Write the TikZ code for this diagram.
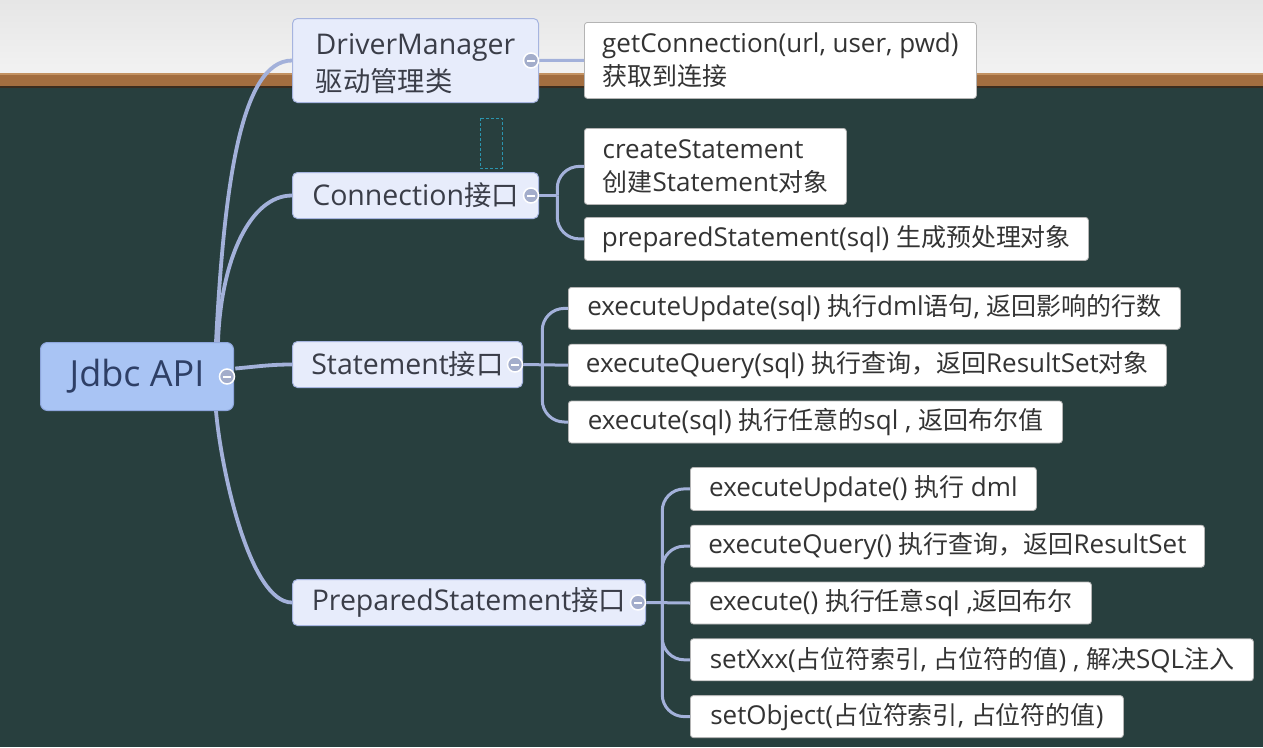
\documentclass[tikz,border=0pt]{standalone}
\usepackage{fontspec}
\usepackage{xcolor}
\usepackage{tikz}
\usetikzlibrary{shapes,arrows,positioning}
\setmainfont{Open Sans}
\newfontfamily\cjk[Scale=0.96]{Noto Sans CJK SC}
\newcommand{\zh}[1]{{\cjk #1}}
\newcommand{\leaffont}{\fontsize{26}{33}\selectfont}
\newcommand{\topicfont}{\fontsize{28.5}{37}\selectfont}
\newcommand{\rootfont}{\fontsize{36}{40}\selectfont}
\definecolor{boardcol}{HTML}{283F3E}
\definecolor{wallhi}{HTML}{E6E6E6}
\definecolor{walllo}{HTML}{F2F2F2}
\definecolor{woodcol}{HTML}{A36E40}
\definecolor{woodhi}{HTML}{C39262}
\definecolor{wooddark}{HTML}{3A2C1E}
\definecolor{rootfill}{HTML}{A9C4F4}
\definecolor{rootline}{HTML}{8EA6DC}
\definecolor{roottext}{HTML}{2E3F66}
\definecolor{topicfill}{HTML}{E7ECFB}
\definecolor{topicline}{HTML}{A6B4DF}
\definecolor{topictext}{HTML}{3A3D48}
\definecolor{leafline}{HTML}{B4B4B4}
\definecolor{leaftext}{HTML}{333333}
\definecolor{branchcol}{HTML}{A3B1DA}
\definecolor{knobcol}{HTML}{A3ADCB}
\definecolor{selcol}{HTML}{2B95AE}
\tikzstyle{root} = [rectangle, draw=rootline, fill=rootfill, line width=1pt,
    rounded corners=7pt, text=roottext, font=\rootfont, anchor=north west,
    minimum width=193pt, minimum height=68pt]
\tikzstyle{topic} = [rectangle, draw=topicline, fill=topicfill, line width=1pt,
    rounded corners=5pt, text=topictext, font=\topicfont, align=left,
    anchor=north west, minimum height=46pt]
\tikzstyle{leaf} = [rectangle, draw=leafline, fill=white, line width=0.8pt,
    rounded corners=3pt, text=leaftext, font=\leaffont, align=left,
    anchor=north west, minimum height=42pt]
\tikzstyle{knob} = [circle, draw=white, fill=knobcol, line width=1.5pt,
    minimum size=15pt, inner sep=0pt,
    path picture={\draw[white, line width=2pt]
      ([xshift=3.5pt]path picture bounding box.west) --
      ([xshift=-3.5pt]path picture bounding box.east);}]
\tikzstyle{branch} = [draw=branchcol, line width=3.8pt]
\tikzstyle{twig} = [draw=branchcol, line width=3pt, rounded corners=22pt]
\tikzstyle{selbox} = [draw=selcol, line width=0.8pt, dash pattern=on 3pt off 2pt]

\begin{document}
\begin{tikzpicture}[x=1pt, y=-1pt, node distance=14pt]
    \useasboundingbox (0,0) rectangle (1263,747);
    % Board
    \fill[top color=wallhi, bottom color=walllo] (0,0) rectangle (1263,73);
    \fill[woodcol] (0,73) rectangle (1263,87);
    \fill[woodhi] (0,73) rectangle (1263,75);
    \fill[wooddark] (0,85.5) rectangle (1263,87.5);
    \fill[boardcol] (0,87.5) rectangle (1263,747);
    \draw[selbox] (480,118) rectangle (502,168);
    % Place nodes
    \node [root, align=center] (jdbc) at (40,342) {Jdbc API};
    \node [topic, minimum width=246pt, minimum height=84pt] (dm) at (292,18)
        {\rule{0pt}{27pt}DriverManager\\\zh{驱动管理类}};
    \node [topic, minimum width=246pt] (conn) at (292,172) {Connection\zh{接口}};
    \node [topic, minimum width=230pt] (stmt) at (292,341) {Statement\zh{接口}};
    \node [topic, minimum width=353pt] (pstmt) at (292,579) {PreparedStatement\zh{接口}};
    \node [leaf, minimum width=392pt, minimum height=76pt] (getconn) at (584,22)
        {getConnection(url, user, pwd)\\\zh{获取到连接}};
    \node [leaf, minimum width=262pt, minimum height=76pt] (create) at (584,128)
        {createStatement\\\zh{创建}Statement\zh{对象}};
    \node [leaf, minimum width=504pt, minimum height=43pt] (prepare) at (584,217)
        {preparedStatement(sql) \zh{生成预处理对象}};
    \node [leaf, minimum width=612pt] (supdate) at (568,287)
        {executeUpdate(sql) \zh{执行}dml\zh{语句}, \zh{返回影响的行数}};
    \node [leaf, below=of supdate.south west, anchor=north west, minimum width=598pt] (squery)
        {executeQuery(sql) \zh{执行查询，返回}ResultSet\zh{对象}};
    \node [leaf, below=of squery.south west, anchor=north west, minimum width=494pt] (sexec)
        {execute(sql) \zh{执行任意的}sql , \zh{返回布尔值}};
    \node [leaf, minimum width=346pt, minimum height=43pt] (pupdate) at (690,467)
        {executeUpdate() \zh{执行} dml};
    \node [leaf, below=of pupdate.south west, anchor=north west, minimum width=514pt] (pquery)
        {executeQuery() \zh{执行查询，返回}ResultSet};
    \node [leaf, below=of pquery.south west, anchor=north west, minimum width=401pt] (pexec)
        {execute() \zh{执行任意}sql ,\zh{返回布尔}};
    \node [leaf, below=of pexec.south west, anchor=north west, minimum width=563pt] (pset)
        {setXxx(\zh{占位符索引}, \zh{占位符的值}) , \zh{解决}SQL\zh{注入}};
    \node [leaf, below=of pset.south west, anchor=north west, minimum width=433pt] (pobj)
        {setObject(\zh{占位符索引}, \zh{占位符的值})};
    % Knobs
    \node [knob] (kjdbc) at ([xshift=-7pt]jdbc.east) {};
    \node [knob] (kdm) at ([xshift=-8pt]dm.east) {};
    \node [knob] (kconn) at ([xshift=-8pt]conn.east) {};
    \node [knob] (kstmt) at ([xshift=-8pt]stmt.east) {};
    \node [knob] (kpstmt) at ([xshift=-8pt]pstmt.east) {};
    \coordinate (fconn) at ([xshift=18pt]kconn.east);
    \coordinate (fstmt) at ([xshift=19pt]kstmt.east);
    \coordinate (fpstmt) at ([xshift=16pt]kpstmt.east);
    % Draw edges
    \path [branch] ([xshift=-18pt]jdbc.north east) to[out=87, in=180, out distance=152pt, in distance=52pt] (dm.west);
    \path [branch] ([xshift=-16pt]jdbc.north east) to[out=88, in=180, out distance=82pt, in distance=42pt] (conn.west);
    \path [branch] ([yshift=8pt]kjdbc.east) to[out=5, in=180] (stmt.west);
    \path [branch] ([xshift=-18pt]jdbc.south east) to[out=-85, in=180, out distance=60pt, in distance=42pt] (pstmt.west);
    \path [twig] (kdm.east) -- (getconn.west);
    \path [twig] (kconn.east) -- (fconn);
    \path [twig] (fconn) |- (create.west);
    \path [twig] (fconn) |- (prepare.west);
    \path [twig] (kstmt.east) -- (squery.west);
    \path [twig] (fstmt) |- (supdate.west);
    \path [twig] (fstmt) |- (sexec.west);
    \path [twig] (kpstmt.east) -- (pexec.west);
    \path [twig] (fpstmt) |- (pupdate.west);
    \path [twig] (fpstmt) |- (pquery.west);
    \path [twig] (fpstmt) |- (pset.west);
    \path [twig] (fpstmt) |- (pobj.west);
\end{tikzpicture}
\end{document}
